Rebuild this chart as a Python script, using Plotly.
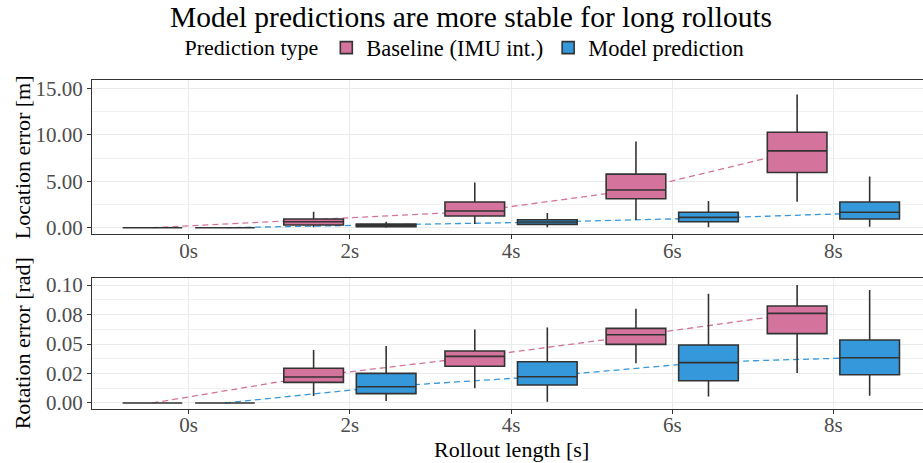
import plotly.graph_objects as go
from plotly.subplots import make_subplots

categories = ["0s", "2s", "4s", "6s", "8s"]
series = ["Baseline (IMU int.)", "Model prediction"]

# Location error [m]
loc_base_q1 = [0.0, 0.29, 1.26, 3.12, 5.96]
loc_base_med = [0.0, 0.65, 1.80, 4.06, 8.29]
loc_base_q3 = [0.0, 0.94, 2.77, 5.78, 10.3]
loc_base_lo = [0.0, 0.05, 0.40, 0.83, 2.80]
loc_base_hi = [0.0, 1.72, 4.88, 9.30, 14.36]
loc_base_mean = [0.0, 0.84, 1.75, 4.10, 8.29]

loc_model_q1 = [0.0, 0.11, 0.36, 0.65, 0.94]
loc_model_med = [0.0, 0.26, 0.61, 1.12, 1.66]
loc_model_q3 = [0.0, 0.40, 0.86, 1.66, 2.77]
loc_model_lo = [0.0, 0.0, 0.04, 0.04, 0.11]
loc_model_hi = [0.0, 0.65, 1.58, 2.87, 5.53]
loc_model_mean = [0.0, 0.28, 0.62, 1.04, 1.60]

# Rotation error [rad]
rot_base_q1 = [0.0, 0.0175, 0.0311, 0.0497, 0.0588]
rot_base_med = [0.0, 0.0220, 0.0395, 0.0579, 0.0760]
rot_base_q3 = [0.0, 0.0294, 0.0441, 0.0633, 0.0822]
rot_base_lo = [0.0, 0.0059, 0.0124, 0.0336, 0.0254]
rot_base_hi = [0.0, 0.0449, 0.0624, 0.0799, 0.1000]
rot_base_mean = [0.0, 0.0228, 0.0390, 0.0571, 0.0760]

rot_model_q1 = [0.0, 0.0079, 0.0153, 0.0189, 0.0240]
rot_model_med = [0.0, 0.0138, 0.0223, 0.0342, 0.0384]
rot_model_q3 = [0.0, 0.0251, 0.0350, 0.0492, 0.0534]
rot_model_lo = [0.0, 0.0017, 0.0011, 0.0056, 0.0062]
rot_model_hi = [0.0, 0.0483, 0.0641, 0.0926, 0.0958]
rot_model_mean = [0.0, 0.0140, 0.0228, 0.0347, 0.0387]

loc_ticks = [0, 5, 10, 15]
loc_ticktext = ["0.00", "5.00", "10.00", "15.00"]
rot_ticks = [0, 0.025, 0.05, 0.075, 0.1]
rot_ticktext = ["0.00", "0.02", "0.05", "0.08", "0.10"]

PINK = "#D4739C"
BLUE = "#3498DB"
EDGE = "#333333"
FONT = "Liberation Serif"
DODGE = 0.225
BOXW = 0.37

W, H = 923, 463
ML, MR, MT, MB = 92, 0, 80, 54
PW = W - ML - MR
PH = H - MT - MB
TOP_DOM = [0.531, 1.0]
BOT_DOM = [0.0, 0.399]
LOC_RANGE = [-0.71, 15.93]
ROT_RANGE = [-0.0051, 0.1062]

idx = list(range(len(categories)))
x_base = [i - DODGE for i in idx]
x_model = [i + DODGE for i in idx]

fig = make_subplots(rows=2, cols=1, shared_xaxes=False, vertical_spacing=0.1)

# (x axis, y axis for lines, overlay y axis for boxes)
panels = [
    ("x", "y", "y3",
     (loc_base_q1, loc_base_med, loc_base_q3, loc_base_lo, loc_base_hi, loc_base_mean),
     (loc_model_q1, loc_model_med, loc_model_q3, loc_model_lo, loc_model_hi, loc_model_mean)),
    ("x2", "y2", "y4",
     (rot_base_q1, rot_base_med, rot_base_q3, rot_base_lo, rot_base_hi, rot_base_mean),
     (rot_model_q1, rot_model_med, rot_model_q3, rot_model_lo, rot_model_hi, rot_model_mean)),
]

for k, (xa, ya, yb, base, model) in enumerate(panels):
    for xs, d, col in ((x_base, base, PINK), (x_model, model, BLUE)):
        fig.add_trace(go.Scatter(x=xs, y=d[5], mode="lines", xaxis=xa, yaxis=ya,
                                 line=dict(color=col, width=1.3, dash="6px,4px"),
                                 showlegend=False, hoverinfo="skip"))
    for xs, d, col, name in ((x_base, base, PINK, series[0]), (x_model, model, BLUE, series[1])):
        fig.add_trace(go.Box(x=xs, q1=d[0], median=d[1], q3=d[2], lowerfence=d[3],
                             upperfence=d[4], width=BOXW, name=name, xaxis=xa, yaxis=yb,
                             fillcolor=col, line=dict(color=EDGE, width=1.6),
                             whiskerwidth=0, boxpoints=False,
                             legendgroup=name, showlegend=(k == 0)))

axis_common = dict(showline=True, linecolor=EDGE, linewidth=1.2,
                   ticks="outside", ticklen=4, tickwidth=1, tickcolor=EDGE,
                   tickfont=dict(family=FONT, size=21, color="#4D4D4D"),
                   showgrid=True, gridcolor="#EBEBEB", gridwidth=1, zeroline=False)

for r in (1, 2):
    fig.update_xaxes(axis_common, row=r, col=1)
    fig.update_xaxes(range=[-0.6, 4.556], tickvals=idx, ticktext=categories,
                     mirror=True, ticklabelstandoff=-7, row=r, col=1)
    fig.update_yaxes(axis_common, row=r, col=1)

fig.update_yaxes(range=LOC_RANGE, tickvals=loc_ticks, ticktext=loc_ticktext,
                 minor=dict(tickvals=[2.5, 7.5, 12.5], showgrid=True,
                            gridcolor="#F2F2F2", gridwidth=1, ticks=""),
                 row=1, col=1)
fig.update_yaxes(range=ROT_RANGE, tickvals=rot_ticks, ticktext=rot_ticktext,
                 minor=dict(tickvals=[0.0125, 0.0375, 0.0625, 0.0875], showgrid=True,
                            gridcolor="#F2F2F2", gridwidth=1, ticks=""),
                 row=2, col=1)

overlay_common = dict(showgrid=False, showticklabels=False, ticks="", showline=False,
                      zeroline=False)

title_font = dict(family=FONT, size=22, color="black")
fig.update_layout(
    yaxis=dict(domain=TOP_DOM),
    yaxis2=dict(domain=BOT_DOM),
    yaxis3=dict(overlaying="y", anchor="x", range=LOC_RANGE, **overlay_common),
    yaxis4=dict(overlaying="y2", anchor="x2", range=ROT_RANGE, **overlay_common),
    width=W, height=H,
    margin=dict(l=ML, r=MR, t=MT, b=MB),
    plot_bgcolor="white", paper_bgcolor="white",
    boxmode="overlay",
    font=dict(family=FONT, color="black"),
    title=dict(text="Model predictions are more stable for long rollouts",
               x=471 / W, xref="container", xanchor="center",
               y=1 - 17 / H, yref="container", yanchor="middle",
               font=dict(family=FONT, size=29.5, color="black")),
    legend=dict(orientation="h", xref="container", x=466 / W, xanchor="center",
                yref="container", y=1 - 48 / H, yanchor="middle",
                title=dict(text="Prediction type", font=dict(family=FONT, size=22)),
                font=dict(family=FONT, size=22.5, color="black"),
                bgcolor="rgba(0,0,0,0)"),
    annotations=[
        dict(text="Location error [m]", xref="paper", yref="paper",
             x=(22 - ML) / PW, y=sum(TOP_DOM) / 2, textangle=-90,
             xanchor="center", yanchor="middle", showarrow=False, font=title_font),
        dict(text="Rotation error [rad]", xref="paper", yref="paper",
             x=(22 - ML) / PW, y=sum(BOT_DOM) / 2, textangle=-90,
             xanchor="center", yanchor="middle", showarrow=False, font=title_font),
        dict(text="Rollout length [s]", xref="paper", yref="paper",
             x=(511 - ML) / PW, y=-(449 - (H - MB)) / PH,
             xanchor="center", yanchor="middle", showarrow=False, font=title_font),
    ],
)

fig.write_html("out.html", config={"displayModeBar": False},
               post_script="document.body.style.margin='0';")
